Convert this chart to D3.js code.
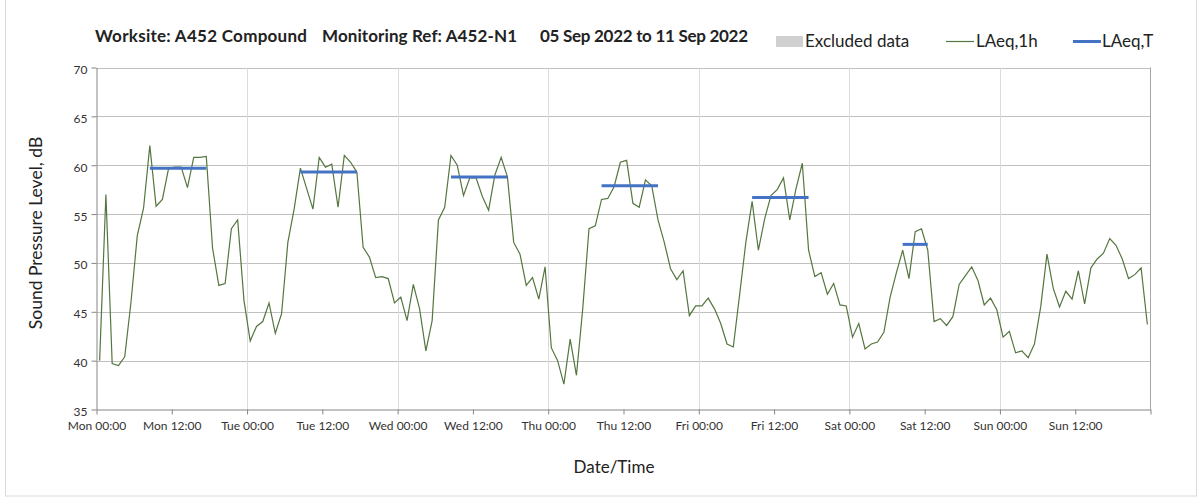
<!DOCTYPE html>
<html lang="en">
<head>
<meta charset="utf-8" />
<title>A452-N1 noise monitoring</title>
<script src="https://cdn.jsdelivr.net/npm/d3@7"></script>
<style>
    body { margin: 0; background: #fff; }
    svg text { font-family: Lato, "Open Sans", sans-serif; fill: #222; }
    .grid line { stroke: #c0c0c0; }
    .vgrid line { stroke: #dcdcdc; }
    .axis path, .axis line { stroke: #868686; }
    .axis text { font-size: 12px; fill: #333; }
</style>
</head>
<body>
<svg width="1203" height="501"></svg>
<script>
// hourly LAeq,1h values, one array per day (00:00 .. 23:00)
var monLevels = [40.0, 57.0, 39.7, 39.5, 40.4, 46.0, 52.8, 55.6, 62.0, 55.8, 56.5, 59.7,
                 59.8, 59.8, 57.7, 60.8, 60.8, 60.9, 51.5, 47.7, 47.9, 53.5, 54.4, 46.2];
var tueLevels = [42.0, 43.5, 44.0, 45.9, 42.8, 44.8, 52.1, 55.5, 59.7, 57.6, 55.5, 60.8,
                 59.8, 60.1, 55.7, 61.0, 60.3, 59.3, 51.6, 50.6, 48.5, 48.6, 48.4, 45.9];
var wedLevels = [46.5, 44.1, 47.8, 45.3, 41.0, 44.1, 54.4, 55.7, 61.0, 60.0, 56.9, 58.7,
                 58.7, 56.8, 55.4, 59.0, 60.8, 58.8, 52.1, 50.9, 47.7, 48.5, 46.3, 49.6];
var thuLevels = [41.3, 40.0, 37.6, 42.2, 38.5, 45.3, 53.5, 53.8, 56.5, 56.6, 57.8, 60.3,
                 60.5, 56.1, 55.7, 58.5, 57.9, 54.4, 52.1, 49.4, 48.3, 49.2, 44.6, 45.6];
var friLevels = [45.6, 46.4, 45.3, 43.8, 41.7, 41.4, 46.7, 52.1, 56.3, 51.3, 54.5, 56.9,
                 57.5, 58.7, 54.4, 57.6, 60.2, 51.3, 48.6, 49.0, 46.8, 47.9, 45.7, 45.6];
var satLevels = [42.4, 43.8, 41.2, 41.7, 41.9, 42.9, 46.5, 49.0, 51.3, 48.4, 53.2, 53.5,
                 51.3, 44.0, 44.3, 43.6, 44.5, 47.8, 48.7, 49.6, 48.2, 45.7, 46.4, 45.2];
var sunLevels = [42.4, 43.0, 40.8, 41.0, 40.3, 41.7, 45.5, 50.9, 47.4, 45.5, 47.1, 46.3,
                 49.2, 45.8, 49.5, 50.4, 51.0, 52.5, 51.8, 50.4, 48.4, 48.8, 49.5, 43.7];

// LAeq,T periods (day index, first and last hour covered) and levels
var periodDay   = [0, 1, 2, 3, 4, 5];
var periodStart = [8, 8, 8, 8, 8, 8];
var periodEnd   = [17, 17, 17, 17, 17, 12];
var periodLevel = [59.7, 59.3, 58.8, 57.9, 56.7, 51.9];

var yTicks = [35, 40, 45, 50, 55, 60, 65, 70];
var legendLabels = ["Excluded data", "LAeq,1h", "LAeq,T"];

var startDate = new Date(2022, 8, 5, 0, 0);
var endDate = new Date(2022, 8, 12, 0, 0);

var svg = d3.select("svg");
var margin = {left: 96.5, right: 1150.5, top: 67.5, bottom: 409.5};

// outer frame
svg.append("rect")
    .attr("x", 5.5).attr("y", -1)
    .attr("width", 1191).attr("height", 497)
    .attr("fill", "none").attr("stroke", "#d9d9d9");

var x = d3.scaleTime().domain([startDate, endDate]).range([margin.left, margin.right]);
var y = d3.scaleLinear().domain([35, 70]).range([margin.bottom, margin.top]);

var levels = [].concat(monLevels, tueLevels, wedLevels, thuLevels, friLevels, satLevels, sunLevels);
var hourly = levels.map(function (v, i) {
    return {t: d3.timeMinute.offset(startDate, i * 60 + 30), v: v};
});

// horizontal grid
svg.append("g").attr("class", "grid")
    .selectAll("line").data(yTicks.slice(1))
    .enter().append("line")
        .attr("x1", margin.left).attr("x2", margin.right)
        .attr("y1", function (d) { return Math.round(y(d)) + 0.5; })
        .attr("y2", function (d) { return Math.round(y(d)) + 0.5; });

// vertical grid at midnight
svg.append("g").attr("class", "vgrid")
    .selectAll("line").data(d3.timeDay.range(d3.timeDay.offset(startDate, 1), endDate))
    .enter().append("line")
        .attr("x1", function (d) { return Math.round(x(d)) + 0.5; })
        .attr("x2", function (d) { return Math.round(x(d)) + 0.5; })
        .attr("y1", margin.top).attr("y2", margin.bottom);

// right border
svg.append("line")
    .attr("x1", margin.right).attr("x2", margin.right)
    .attr("y1", margin.top).attr("y2", margin.bottom)
    .attr("stroke", "#a6a6a6");

// axes
var xAxis = d3.axisBottom(x)
    .tickValues(d3.timeHour.every(12).range(startDate, d3.timeHour.offset(endDate, 1)))
    .tickFormat(function (d) { return +d === +endDate ? "" : d3.timeFormat("%a %H:%M")(d); })
    .tickSize(5).tickSizeOuter(0);
svg.append("g").attr("class", "axis")
    .attr("transform", "translate(0," + margin.bottom + ")")
    .call(xAxis)
    .selectAll("text").attr("dy", "1.05em");

var yAxis = d3.axisLeft(y).tickValues(yTicks).tickSize(5).tickSizeOuter(0);
svg.append("g").attr("class", "axis")
    .attr("transform", "translate(" + margin.left + ",0)")
    .call(yAxis)
    .selectAll("text").attr("x", -9).attr("dy", "0.5em");

// LAeq,1h line
var line = d3.line()
    .x(function (d) { return x(d.t); })
    .y(function (d) { return y(d.v); });
svg.append("path")
    .datum(hourly)
    .attr("d", line)
    .attr("fill", "none")
    .attr("stroke", "#55763f")
    .attr("stroke-width", 1.2);

// LAeq,T bars
svg.append("g").selectAll("line")
    .data(periodLevel)
    .enter().append("line")
        .attr("x1", function (d, i) { return x(d3.timeMinute.offset(startDate, (periodDay[i] * 24 + periodStart[i]) * 60 + 30)); })
        .attr("x2", function (d, i) { return x(d3.timeMinute.offset(startDate, (periodDay[i] * 24 + periodEnd[i]) * 60 + 30)); })
        .attr("y1", function (d) { return y(d); })
        .attr("y2", function (d) { return y(d); })
        .attr("stroke", "#4472c4")
        .attr("stroke-width", 3);

// title
var title = svg.append("text")
    .attr("x", 95).attr("y", 42)
    .style("font-size", "17px").style("font-weight", "bold");
title.append("tspan").attr("textLength", 212).text("Worksite: A452 Compound");
title.append("tspan").attr("x", 322).attr("textLength", 195).text("Monitoring Ref: A452-N1");
title.append("tspan").attr("x", 540).attr("textLength", 208).text("05 Sep 2022 to 11 Sep 2022");

// legend
var legend = svg.append("g").style("font-size", "17px");
legend.append("rect").attr("x", 776).attr("y", 36).attr("width", 27).attr("height", 11).attr("fill", "#d0d0d0");
legend.append("text").attr("x", 805).attr("y", 47).text(legendLabels[0]);
legend.append("line").attr("x1", 946).attr("x2", 974).attr("y1", 41.5).attr("y2", 41.5)
    .attr("stroke", "#55763f").attr("stroke-width", 1.2);
legend.append("text").attr("x", 976).attr("y", 47).text(legendLabels[1]);
legend.append("line").attr("x1", 1073).attr("x2", 1101).attr("y1", 41.5).attr("y2", 41.5)
    .attr("stroke", "#4472c4").attr("stroke-width", 3);
legend.append("text").attr("x", 1102).attr("y", 47).text(legendLabels[2]);

// axis titles
svg.append("text")
    .attr("transform", "translate(42,233) rotate(-90)")
    .attr("text-anchor", "middle")
    .style("font-size", "17.5px")
    .text("Sound Pressure Level, dB");
svg.append("text")
    .attr("x", 614).attr("y", 473)
    .attr("text-anchor", "middle")
    .style("font-size", "17px")
    .text("Date/Time");
</script>
</body>
</html>
